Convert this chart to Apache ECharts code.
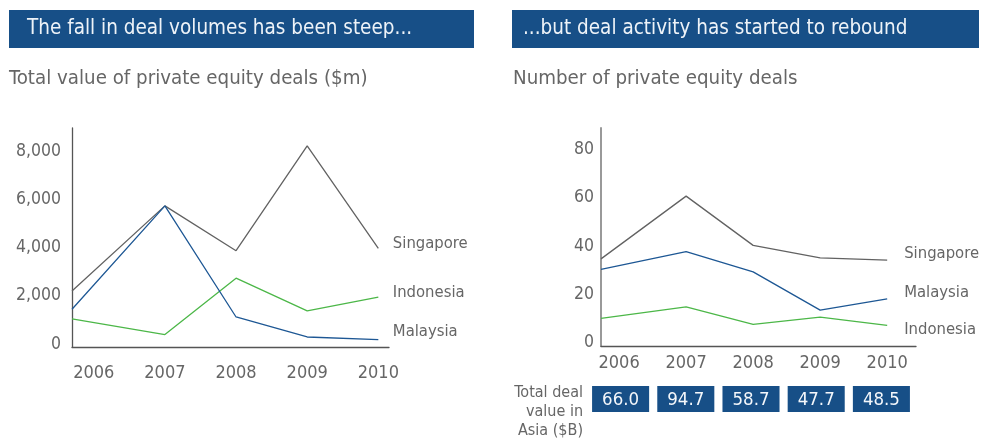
<!DOCTYPE html>
<html>
<head>
<meta charset="utf-8">
<script src="https://cdn.jsdelivr.net/npm/echarts@6/dist/echarts.min.js"></script>
<style>
html,body{margin:0;padding:0;background:#fff;}
#chart{width:981px;height:440px;}
</style>
</head>
<body>
<div id="chart"></div>
<script>
// ---- data ----
const years = [2006, 2007, 2008, 2009, 2010];
const yearLabels = ['2006', '2007', '2008', '2009', '2010'];

// Total value of private equity deals ($m)
const valueSingapore = [2200, 5730, 3870, 8220, 3970];
const valueMalaysia  = [1440, 5730, 1120, 290, 180];
const valueIndonesia = [1040, 390, 2730, 1370, 1940];
const valueTicks = [0, 2000, 4000, 6000, 8000];

// Number of private equity deals
const countSingapore = [34.7, 60.7, 40.3, 35.1, 34.2];
const countMalaysia  = [30.4, 37.7, 29.3, 13.5, 18.1];
const countIndonesia = [10.1, 14.8, 7.6, 10.6, 7.2];
const countTicks = [0, 20, 40, 60, 80];

// Total deal value in Asia ($B)
const totalAsia = [66.0, 94.7, 58.7, 47.7, 48.5];

const titleLeft = 'The fall in deal volumes has been steep...';
const titleRight = '...but deal activity has started to rebound';
const subLeft = 'Total value of private equity deals ($m)';
const subRight = 'Number of private equity deals';
const totalLabel = 'Total deal\nvalue in\nAsia ($B)';

// ---- style ----
const FONT = "'Liberation Sans Narrow','DejaVu Sans Condensed','Roboto Condensed',Roboto,'Liberation Sans',sans-serif";
const NAVY = '#174f87';
const GREY_TXT = '#666666';
const C_SING = '#626262';
const C_MAL = '#1d5794';
const C_IND = '#4cb748';

const leftXMin = 2005.694, leftXMax = 2010.15;
const rightXMin = 2005.73, rightXMax = 2010.43;

function pts(vals, xmin) {
  return vals.map((v, i) => [i === 0 ? xmin : years[i], v]);
}

function lineSeries(name, vals, color, xIdx, xmin, off) {
  return {
    type: 'line', name: name, xAxisIndex: xIdx, yAxisIndex: xIdx,
    data: pts(vals, xmin), symbol: 'none', silent: true,
    lineStyle: { color: color, width: 1.3 },
    itemStyle: { color: color },
    emphasis: { disabled: true },
    animation: false,
    endLabel: {
      show: true, formatter: '{a}', distance: 0, offset: off,
      color: GREY_TXT, fontSize: 16.5, fontFamily: FONT,
      align: 'left', verticalAlign: 'middle'
    }
  };
}

const axisLabelBase = { color: GREY_TXT, fontSize: 18, fontFamily: FONT };

const chart = echarts.init(document.getElementById('chart'), null, { renderer: 'canvas' });
chart.setOption({
  animation: false,
  backgroundColor: '#fff',
  grid: [
    { left: 72, top: 128, width: 317, height: 219 },
    { left: 601, top: 128, width: 315, height: 218 },
    { left: 588, top: 386, width: 326, height: 26 }
  ],
  xAxis: [
    {
      type: 'value', gridIndex: 0, min: leftXMin, max: leftXMax,
      splitLine: { show: false }, axisTick: { show: false },
      axisLine: { show: true, onZero: false, lineStyle: { color: '#555', width: 1.3 } },
      axisLabel: Object.assign({ customValues: years, margin: 17, formatter: v => String(v) }, axisLabelBase)
    },
    {
      type: 'value', gridIndex: 1, min: rightXMin, max: rightXMax,
      splitLine: { show: false }, axisTick: { show: false },
      axisLine: { show: true, onZero: false, lineStyle: { color: '#555', width: 1.3 } },
      axisLabel: Object.assign({ customValues: years, margin: 8, formatter: v => String(v) }, axisLabelBase)
    },
    {
      type: 'category', gridIndex: 2, data: yearLabels, show: false
    }
  ],
  yAxis: [
    {
      type: 'value', gridIndex: 0, min: -125, max: 8960,
      splitLine: { show: false }, axisTick: { show: false },
      axisLine: { show: true, onZero: false, lineStyle: { color: '#555', width: 1.3 } },
      axisLabel: Object.assign({ customValues: valueTicks, margin: 11,
        formatter: v => Number(v).toLocaleString('en-US') }, axisLabelBase, { fontSize: 17.5 })
    },
    {
      type: 'value', gridIndex: 1, min: -1.37, max: 88.9,
      splitLine: { show: false }, axisTick: { show: false },
      axisLine: { show: true, onZero: false, lineStyle: { color: '#999', width: 2 } },
      axisLabel: Object.assign({ customValues: countTicks, margin: 7,
        formatter: v => String(v) }, axisLabelBase, { fontSize: 17.5 })
    },
    {
      type: 'value', gridIndex: 2, min: 0, max: 1, show: false
    }
  ],
  series: [
    lineSeries('Singapore', valueSingapore, C_SING, 0, leftXMin, [14.5, -5]),
    lineSeries('Indonesia', valueIndonesia, C_IND, 0, leftXMin, [14.5, -5]),
    lineSeries('Malaysia', valueMalaysia, C_MAL, 0, leftXMin, [14.5, -7.7]),
    lineSeries('Singapore', countSingapore, C_SING, 1, rightXMin, [17, -6.4]),
    lineSeries('Malaysia', countMalaysia, C_MAL, 1, rightXMin, [17, -6]),
    lineSeries('Indonesia', countIndonesia, C_IND, 1, rightXMin, [17, 4.4]),
    {
      type: 'custom', xAxisIndex: 2, yAxisIndex: 2, silent: true,
      data: totalAsia.map((v, i) => [i, v]),
      renderItem: function (params, api) {
        const c = api.coord([api.value(0), 0.5]);
        const s = api.size([1, 1]);
        const w = s[0] * 0.875, h = s[1];
        return {
          type: 'group',
          children: [
            { type: 'rect', shape: { x: c[0] - w / 2, y: c[1] - h / 2, width: w, height: h },
              style: { fill: NAVY } },
            { type: 'text', style: { text: api.value(1).toFixed(1), x: c[0], y: c[1] + 1,
              align: 'center', verticalAlign: 'middle', fill: '#f4f7fb',
              font: '18.5px ' + FONT } }
          ]
        };
      }
    }
  ],
  graphic: [
    { type: 'rect', left: 9, top: 10, shape: { width: 465, height: 38 }, style: { fill: NAVY }, silent: true },
    { type: 'rect', left: 512, top: 10, shape: { width: 467, height: 38 }, style: { fill: NAVY }, silent: true },
    { type: 'text', x: 27, y: 29, style: { text: titleLeft, fill: '#eef3f8', font: '20.5px ' + FONT,
      verticalAlign: 'middle', align: 'left' }, silent: true },
    { type: 'text', x: 523, y: 29, style: { text: titleRight, fill: '#eef3f8', font: '20.5px ' + FONT,
      verticalAlign: 'middle', align: 'left' }, silent: true },
    { type: 'text', x: 9, y: 79, style: { text: subLeft, fill: GREY_TXT, font: '20.3px ' + FONT,
      verticalAlign: 'middle', align: 'left' }, silent: true },
    { type: 'text', x: 513, y: 79, style: { text: subRight, fill: GREY_TXT, font: '20.3px ' + FONT,
      verticalAlign: 'middle', align: 'left' }, silent: true },
    { type: 'text', x: 583, y: 383, style: { text: totalLabel, fill: GREY_TXT, font: '16px ' + FONT,
      lineHeight: 19, verticalAlign: 'top', align: 'right' }, silent: true }
  ]
});
</script>
</body>
</html>
